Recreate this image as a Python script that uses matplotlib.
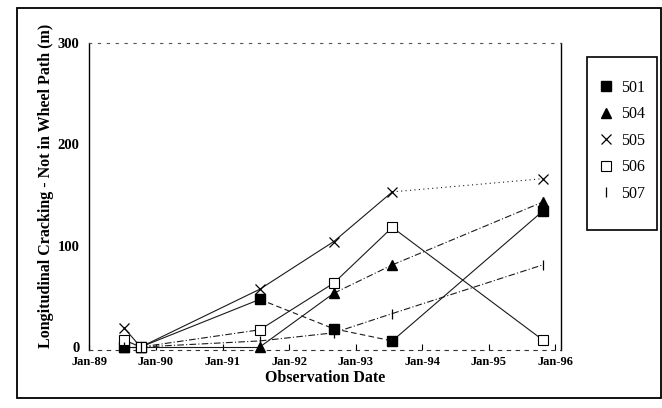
import numpy as np
import matplotlib.pyplot as plt
from matplotlib.patches import Rectangle
from matplotlib.lines import Line2D

plt.rcParams['font.family'] = ['Liberation Serif', 'DejaVu Serif']

# observation dates as decimal years
fechas = np.array([1989.44, 1989.69, 1991.48, 1992.59, 1993.47, 1995.73])

s501 = np.array([0, 0, 47, 18, 6, 134], dtype=float)
s504 = np.array([0, 0, 0, 53, 81, 143], dtype=float)
s505 = np.array([19, 0, 57, 104, 153, 166], dtype=float)
s506 = np.array([7, 0, 17, 63, 118, 7], dtype=float)
s507 = np.array([0, 0, 6, 14, 33, 81], dtype=float)

etiquetas = ["501", "504", "505", "506", "507"]
series = [s501, s504, s505, s506, s507]

tick_anos = np.arange(1989, 1997)
tick_textos = ["Jan-89", "Jan-90", "Jan-91", "Jan-92", "Jan-93", "Jan-94", "Jan-95", "Jan-96"]

# marker + line style for each segment (scanned original has mixed dashes)
marcas = {
    "501": dict(marker="s", ms=6.5, mfc="black", mec="black"),
    "504": dict(marker="^", ms=6.5, mfc="black", mec="black"),
    "505": dict(marker="x", ms=7.5, mfc="none", mec="black", mew=0.9),
    "506": dict(marker="s", ms=6.5, mfc="white", mec="black", mew=0.8),
    "507": dict(marker="|", ms=7.5, mfc="none", mec="black", mew=0.9),
}
segmentos = {
    "501": ["-", "-", (0, (5, 3)), (0, (5, 3)), "-"],
    "504": [(0, (4, 3)), "-", "-", (0, (6, 2, 1, 2)), (0, (6, 2, 1, 2))],
    "505": ["-", "-", "-", "-", (0, (1, 3))],
    "506": ["-", (0, (6, 2, 1, 2)), "-", "-", "-"],
    "507": [(0, (6, 2, 1, 2))] * 5,
}

fig = plt.figure(figsize=(6.62, 4.08), dpi=100)
ax = fig.add_axes([0.135, 0.142, 0.712, 0.753])

for nombre, valores in zip(etiquetas, series):
    for i in range(len(fechas) - 1):
        ax.plot(fechas[i:i + 2], valores[i:i + 2], color="#1a1a1a", lw=0.8,
                linestyle=segmentos[nombre][i], clip_on=False)
    ax.plot(fechas, valores, linestyle="none", clip_on=False, zorder=3,
            **marcas[nombre])

ax.set_xlim(1989.08, 1996.0)
ax.set_ylim(-3, 300)
ax.set_xticks(tick_anos - 0.08)
ax.set_xticklabels(tick_textos, fontsize=9, fontweight="bold")
ax.set_yticks([0, 100, 200, 300])
ax.set_yticklabels(["0", "100", "200", "300"], fontsize=10.5, fontweight="bold")
ax.tick_params(axis="x", direction="in", length=4, width=0.8, pad=4)
ax.tick_params(axis="y", length=0, pad=7)

ax.spines["top"].set_linestyle((0, (2, 6)))
ax.spines["top"].set_color("#555555")
ax.spines["bottom"].set_linestyle((0, (3, 5)))
ax.spines["bottom"].set_color("#333333")
ax.spines["left"].set_linewidth(1.0)
ax.spines["right"].set_linewidth(1.0)

ax.set_xlabel("Observation Date", fontsize=11.5, fontweight="bold", labelpad=2)
fig.text(0.069, 0.545, "Longitudinal Cracking - Not in Wheel Path (m)",
         rotation=90, ha="center", va="center", fontsize=11.5, fontweight="bold")

# legend box
fig.patches.append(Rectangle((0.887, 0.436), 0.106, 0.424, transform=fig.transFigure,
                             fill=False, edgecolor="black", lw=1.2))
manejadores = [Line2D([], [], linestyle="none", **marcas[n]) for n in etiquetas]
fig.legend(manejadores, etiquetas, loc="center", bbox_to_anchor=(0.94, 0.655),
           frameon=False, fontsize=11.5, handlelength=0.8, handletextpad=0.5,
           labelspacing=0.65)

# outer border
fig.patches.append(Rectangle((0.026, 0.025), 0.972, 0.955, transform=fig.transFigure,
                             fill=False, edgecolor="black", lw=1.3))

fig.savefig("out.png", dpi=100)
